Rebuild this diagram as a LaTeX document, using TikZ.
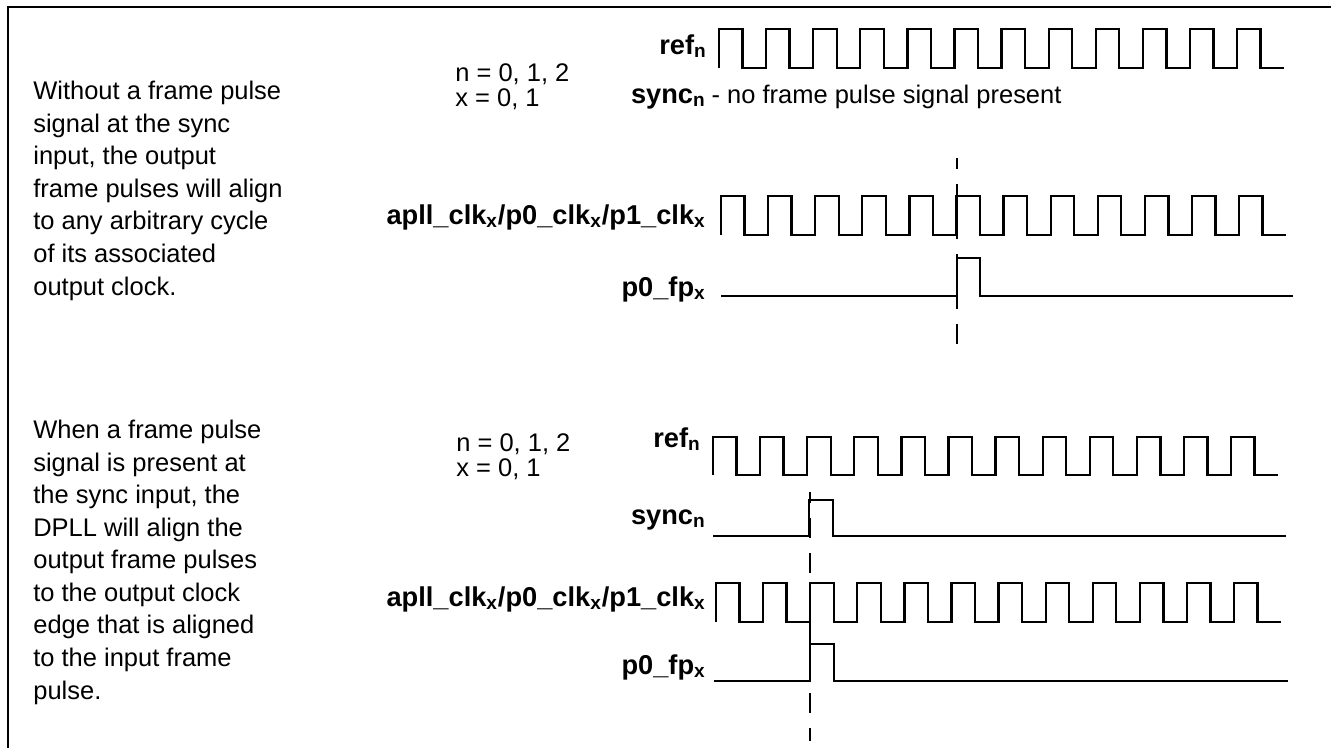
\documentclass[tikz,border=0pt]{standalone}
\usepackage{fontspec}
\setmainfont{Liberation Sans}
\usepackage{tikz}
\usetikzlibrary{positioning}

\begin{document}
\begin{tikzpicture}[x=0.2mm, y=-0.2mm,
  wave/.style={line width=1.3pt},
  syncmark/.style={line width=1.3pt, dash pattern=on 11.4pt off 8.5pt, dash phase=5.1pt},
  sig/.style={font=\fontsize{15.5}{17}\selectfont\bfseries, anchor=base east, inner sep=0pt},
  note/.style={font=\fontsize{14.5}{17}\selectfont, anchor=base west, inner sep=0pt},
  para/.style={font=\fontsize{14.5}{18.5}\selectfont, align=left, anchor=base west, inner sep=0pt}]
  \useasboundingbox (0,0) rectangle (1331,748);
  \draw[line width=1.1pt] (8,748) -- (8,7) -- (1331,7);

  \node[para] (txtA) at (33,295) {Without a frame pulse\\signal at the sync\\input, the output\\frame pulses will align\\to any arbitrary cycle\\of its associated\\output clock.};
  \node[note] (nA) at (455,81) {n = 0, 1, 2};
  \node[note] (xA) at (455,106) {x = 0, 1};
  \node[sig] (refA) at (707,54) {ref\textsubscript{n}};
  \node[sig] (syncA) at (706,103) {sync\textsubscript{n}};
  \node[note, right=3pt of syncA.base east, anchor=base west] (syncAnote) {- no frame pulse signal present};
  \node[sig] (clkA) at (706,224) {apll\_clk\textsubscript{x}/p0\_clk\textsubscript{x}/p1\_clk\textsubscript{x}};
  \node[sig] (fpA) at (706,296) {p0\_fp\textsubscript{x}};
  \draw[wave] (719,68) \foreach \k in {0,...,11} { -- ++(0,-39) -- ++(23.5,0) -- ++(0,39) -- ++(23.6,0) };
  \draw[wave] (721,235) \foreach \k in {0,...,11} { -- ++(0,-39) -- ++(23.5,0) -- ++(0,39) -- ++(23.6,0) };
  \draw[wave] (721,296) -- (957,296) -- (957,258) -- (980,258) -- (980,296) -- (1293,296);
  \coordinate (markAtop) at (957,158);
  \coordinate (markAbot) at (957,353);
  \draw[syncmark] (markAtop) -- (markAbot);

  \node[para] (txtB) at (33,699) {When a frame pulse\\signal is present at\\the sync input, the\\DPLL will align the\\output frame pulses\\to the output clock\\edge that is aligned\\to the input frame\\pulse.};
  \node[note] (nB) at (456,451) {n = 0, 1, 2};
  \node[note] (xB) at (456,476) {x = 0, 1};
  \node[sig] (refB) at (701,447) {ref\textsubscript{n}};
  \node[sig] (syncB) at (706,524) {sync\textsubscript{n}};
  \node[sig] (clkB) at (706,606) {apll\_clk\textsubscript{x}/p0\_clk\textsubscript{x}/p1\_clk\textsubscript{x}};
  \node[sig] (fpB) at (706,674) {p0\_fp\textsubscript{x}};
  \draw[wave] (713,475) \foreach \k in {0,...,11} { -- ++(0,-38) -- ++(23.5,0) -- ++(0,38) -- ++(23.6,0) };
  \draw[wave] (713,536) -- (809,536) -- (809,500) -- (833,500) -- (833,536) -- (1286,536);
  \draw[wave] (716,622) \foreach \k in {0,...,11} { -- ++(0,-39) -- ++(23.5,0) -- ++(0,39) -- ++(23.6,0) };
  \draw[wave] (714,681) -- (810,681) -- (810,644) -- (834,644) -- (834,681) -- (1288,681);
  \coordinate (markBtop) at (810,492);
  \coordinate (markBbot) at (810,741);
  \draw[syncmark] (markBtop) -- (markBbot);
\end{tikzpicture}
\end{document}
